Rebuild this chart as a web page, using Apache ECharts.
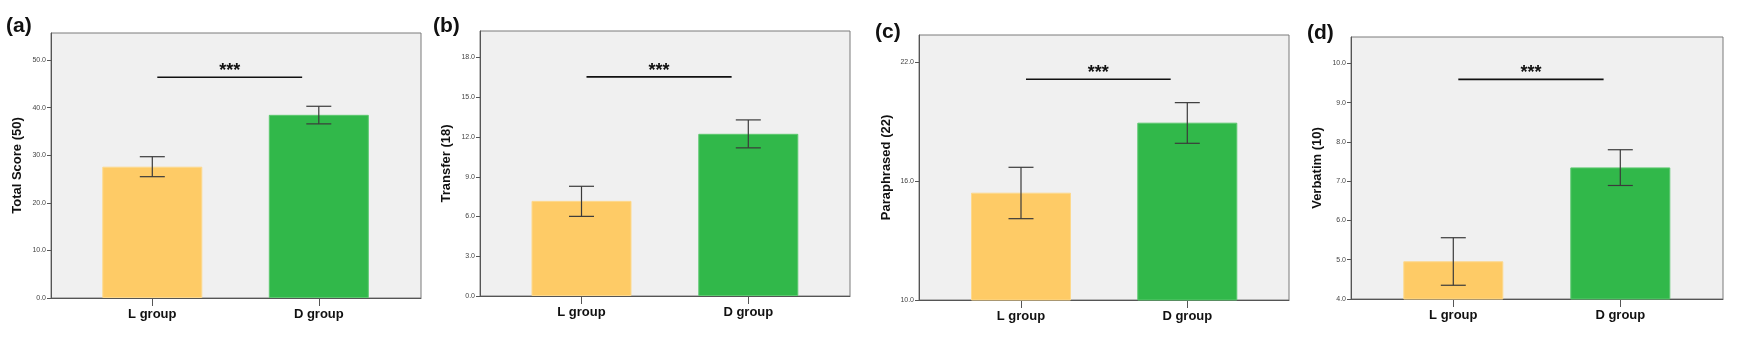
<!DOCTYPE html>
<html>
<head>
<meta charset="utf-8">
<script src="https://cdn.jsdelivr.net/npm/echarts@6/dist/echarts.min.js"></script>
<style>html,body{margin:0;padding:0;background:#fff;}#c{width:1760px;height:352px;}</style>
</head>
<body>
<div id="c"></div>
<script>
// ---- data ----
const categories = ['L group', 'D group'];
const panelLabels = ['(a)', '(b)', '(c)', '(d)'];
const yTitles = ['Total Score (50)', 'Transfer (18)', 'Paraphrased (22)', 'Verbatim (10)'];

const totalMean = [27.6, 38.5];
const totalLow = [25.5, 36.6];
const totalHigh = [29.7, 40.3];

const transferMean = [7.18, 12.24];
const transferLow = [6.01, 11.18];
const transferHigh = [8.28, 13.29];

const paraMean = [15.41, 18.94];
const paraLow = [14.10, 17.90];
const paraHigh = [16.69, 19.95];

const verbMean = [4.96, 7.35];
const verbLow = [4.35, 6.89];
const verbHigh = [5.56, 7.80];

const totalTicks = [0, 10, 20, 30, 40, 50];
const transferTicks = [0, 3, 6, 9, 12, 15, 18];
const paraTicks = [10, 16, 22];
const verbTicks = [4, 5, 6, 7, 8, 9, 10];

const totalRange = [0, 55.7];
const transferRange = [0, 20];
const paraRange = [10, 23.36];
const verbRange = [4, 10.67];

const sigLevel = [46.4, 16.54, 21.13, 9.59];
const sigSpan = [0.03, 0.9];
const sigText = '***';

// ---- layout (positions / styles) ----
const layout = [
  {box: [51, 33, 421, 298], centers: [152.3, 318.8], gap: 27},
  {box: [480, 31, 850, 296], centers: [581.5, 748.3], gap: 27},
  {box: [919, 35, 1289, 300], centers: [1021, 1187.3], gap: 26},
  {box: [1351, 37, 1723, 299], centers: [1453.3, 1620.3], gap: 27}
];
const labelPos = [[6, 26], [433, 26], [875, 32], [1307, 33]];
const barColors = ['#FECB66', '#31B84A'];

const panels = [
  {mean: totalMean, low: totalLow, high: totalHigh, ticks: totalTicks, range: totalRange},
  {mean: transferMean, low: transferLow, high: transferHigh, ticks: transferTicks, range: transferRange},
  {mean: paraMean, low: paraLow, high: paraHigh, ticks: paraTicks, range: paraRange},
  {mean: verbMean, low: verbLow, high: verbHigh, ticks: verbTicks, range: verbRange}
];

const grid = [], xAxis = [], yAxis = [], series = [], graphic = [];
const FONT = 'Liberation Sans, Arial, sans-serif';

panels.forEach((p, i) => {
  const L = layout[i];
  const [l, t, r, b] = L.box;
  const unit = L.centers[1] - L.centers[0];
  const xmin = -(L.centers[0] - l) / unit;
  const xmax = 1 + (r - L.centers[1]) / unit;
  grid.push({left: l, top: t, width: r - l, height: b - t, show: true,
    backgroundColor: '#F0F0F0', borderColor: '#7a7a7a', borderWidth: 1});
  xAxis.push({
    type: 'value', gridIndex: i, min: xmin, max: xmax, position: 'bottom',
    axisLine: {show: true, onZero: false, lineStyle: {color: '#555', width: 1}},
    axisTick: {show: true, customValues: [0, 1], length: 8, inside: false, lineStyle: {color: '#555'}},
    axisLabel: {customValues: [0, 1], formatter: v => categories[Math.round(v)],
      fontFamily: FONT, fontWeight: 'bold', fontSize: 13, color: '#111', margin: 10},
    splitLine: {show: false}
  });
  yAxis.push({
    type: 'value', gridIndex: i, min: p.range[0], max: p.range[1], position: 'left',
    name: yTitles[i], nameLocation: 'middle', nameRotate: 90, nameGap: L.gap,
    nameTextStyle: {fontFamily: FONT, fontWeight: 'bold', fontSize: 13, color: '#111'},
    axisLine: {show: true, onZero: false, lineStyle: {color: '#555', width: 1}},
    axisTick: {show: true, customValues: p.ticks, length: 4, lineStyle: {color: '#555'}},
    axisLabel: {customValues: p.ticks, formatter: v => v.toFixed(1),
      fontFamily: FONT, fontSize: 7, color: '#444', margin: 5},
    splitLine: {show: false}
  });
  series.push({
    type: 'bar', xAxisIndex: i, yAxisIndex: i, barWidth: 100,
    data: categories.map((c, k) => ({value: [k, p.mean[k]],
      itemStyle: {color: barColors[k], borderColor: k ? '#5cc86f' : '#fdd98d', borderWidth: 1}})),
    silent: true
  });
  series.push({
    type: 'custom', xAxisIndex: i, yAxisIndex: i, silent: true, z: 5,
    encode: {x: 0, y: [1, 2]},
    data: categories.map((c, k) => [k, p.low[k], p.high[k]]),
    renderItem: (params, api) => {
      const lo = api.coord([api.value(0), api.value(1)]);
      const hi = api.coord([api.value(0), api.value(2)]);
      const hw = 12.5;
      const st = {stroke: '#3a3a3a', lineWidth: 1.2};
      return {type: 'group', children: [
        {type: 'line', shape: {x1: lo[0], y1: lo[1], x2: hi[0], y2: hi[1]}, style: st},
        {type: 'line', shape: {x1: lo[0] - hw, y1: lo[1], x2: lo[0] + hw, y2: lo[1]}, style: st},
        {type: 'line', shape: {x1: hi[0] - hw, y1: hi[1], x2: hi[0] + hw, y2: hi[1]}, style: st}
      ]};
    }
  });
  series.push({
    type: 'custom', xAxisIndex: i, yAxisIndex: i, silent: true, z: 6,
    encode: {x: [0, 1], y: 2},
    data: [[sigSpan[0], sigSpan[1], sigLevel[i]]],
    renderItem: (params, api) => {
      const a = api.coord([api.value(0), api.value(2)]);
      const c = api.coord([api.value(1), api.value(2)]);
      return {type: 'group', children: [
        {type: 'line', shape: {x1: a[0], y1: a[1], x2: c[0], y2: c[1]}, style: {stroke: '#111', lineWidth: 1.6}},
        {type: 'text', x: (a[0] + c[0]) / 2, y: a[1] - 6,
          style: {text: sigText, fill: '#111', font: 'bold 18px ' + FONT, textAlign: 'center', textVerticalAlign: 'middle'}}
      ]};
    }
  });
  graphic.push({type: 'text', x: labelPos[i][0], y: labelPos[i][1],
    style: {text: panelLabels[i], fill: '#111', font: 'bold 21px ' + FONT, textAlign: 'left', textVerticalAlign: 'middle'}});
});

const chart = echarts.init(document.getElementById('c'), null, {renderer: 'canvas'});
chart.setOption({animation: false, backgroundColor: '#fff', grid, xAxis, yAxis, series, graphic});
</script>
</body>
</html>
